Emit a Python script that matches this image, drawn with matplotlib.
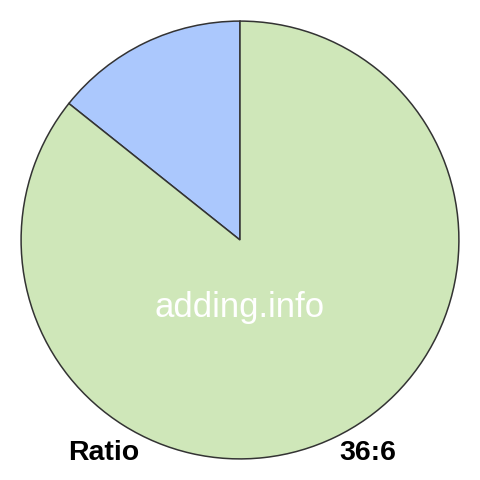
import matplotlib.pyplot as plt

labels = ['6', '36']
values = [6, 36]
colors = ['#abc8fd', '#cfe7b9']

fig = plt.figure(figsize=(4.8, 4.8), dpi=100)
ax = fig.add_axes([20/480, 20/480, 440/480, 440/480])
ax.pie(values, colors=colors, startangle=90, counterclock=True,
       wedgeprops=dict(edgecolor='#333333', linewidth=1.1))
ax.set_xlim(-1.005, 1.005)
ax.set_ylim(-1.005, 1.005)
ax.set_aspect('equal')
ax.axis('off')

fig.text(240/480, 1 - 308/480, 'adding.info', color='white', fontsize=25,
         family='Liberation Sans', ha='center', va='center')
fig.text(104/480, 1 - 460/480, 'Ratio', fontsize=20.5, fontweight='bold',
         family='Liberation Sans', ha='center', va='baseline')
fig.text(368/480, 1 - 460/480, '36:6', fontsize=20.5, fontweight='bold',
         family='Liberation Sans', ha='center', va='baseline')

fig.savefig('out.png', dpi=100)
